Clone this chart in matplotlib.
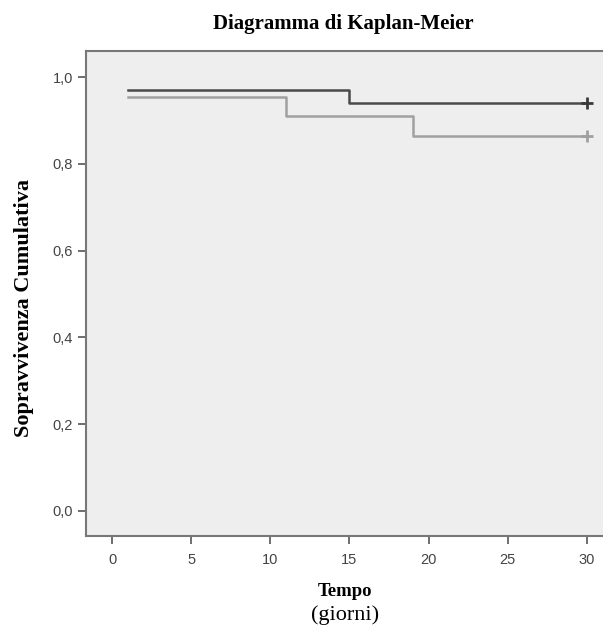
import matplotlib.pyplot as plt
from matplotlib.ticker import FuncFormatter

# Kaplan-Meier curves
t_dark = [1, 15, 30]
s_dark = [0.970, 0.939, 0.939]
t_light = [1, 11, 19, 30]
s_light = [0.955, 0.909, 0.864, 0.864]

xticks = [0, 5, 10, 15, 20, 25, 30]
yticks = [0.0, 0.2, 0.4, 0.6, 0.8, 1.0]

fig = plt.figure(figsize=(6.03, 6.28), dpi=100)
ax = fig.add_axes([0.1426, 0.1465, 0.862, 0.7723])
ax.set_facecolor('#eeeeee')

ax.step(t_dark, s_dark, where='post', color='#4a4a4a', lw=1.8)
ax.step(t_light, s_light, where='post', color='#a0a0a0', lw=1.8)
ax.plot(t_dark[-1], s_dark[-1], marker='+', color='#3a3a3a', ms=8, mew=2)
ax.plot(t_light[-1], s_light[-1], marker='+', color='#a0a0a0', ms=8, mew=2)

ax.set_xlim(-1.65, 31.2)
ax.set_ylim(-0.058, 1.06)
ax.set_xticks(xticks)
ax.set_yticks(yticks)
ax.yaxis.set_major_formatter(FuncFormatter(lambda v, p: f'{v:.1f}'.replace('.', ',')))
ax.tick_params(direction='out', length=6, width=1.2, color='#555555',
               labelsize=10.5, labelcolor='#444444')
ax.tick_params(axis='x', pad=6)
for lab in ax.get_xticklabels() + ax.get_yticklabels():
    lab.set_family('Liberation Sans')

for s in ax.spines.values():
    s.set_color('#777777')
    s.set_linewidth(1.5)

# titles / labels placed in figure pixels
W, H = 603, 628
fig.text(343.5 / W, 1 - 24 / H, 'Diagramma di Kaplan-Meier', family='Liberation Serif',
         fontweight='bold', fontsize=15, ha='center', va='center')
fig.text(24 / W, 1 - 308 / H, 'Sopravvivenza Cumulativa', family='Liberation Serif',
         fontweight='bold', fontsize=16, rotation=90, ha='center', va='center')
fig.text(345 / W, 1 - 592 / H, 'Tempo', family='Liberation Serif', fontweight='bold',
         fontsize=13.5, ha='center', va='center')
fig.text(345 / W, 1 - 615 / H, '(giorni)', family='Liberation Serif', fontsize=16,
         ha='center', va='center')

fig.savefig('out.png', dpi=100)
